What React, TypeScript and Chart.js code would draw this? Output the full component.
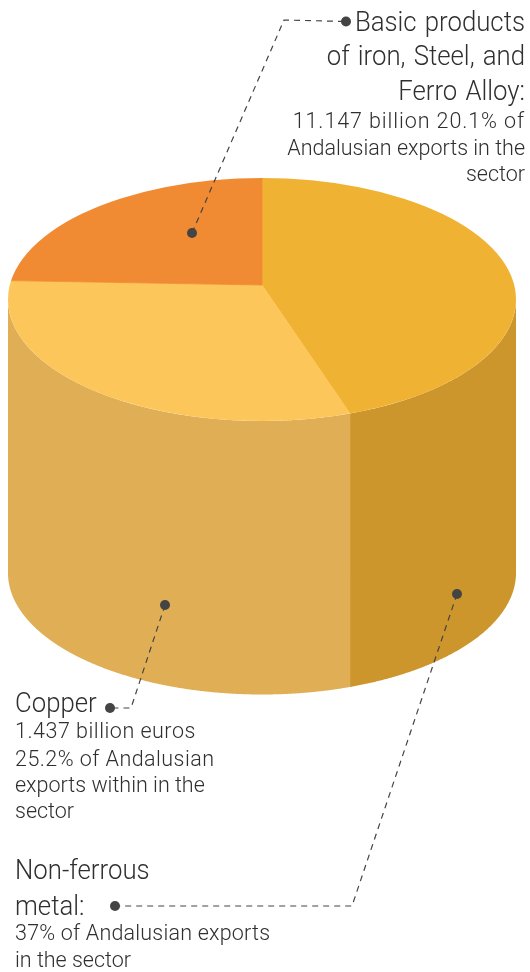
import React, { useEffect, useRef } from "react";
import { Chart, registerables } from "chart.js";

Chart.register(...registerables);

// ---- data ----
const categories = ["Non-ferrous metal", "Copper", "Basic products of iron, Steel, and Ferro Alloy"];
const shares = [37, 25.2, 20.1];
const topColors = ["#EFB233", "#FDC65A", "#F18B33"];
const wallColors = ["#CD962C", "#E0AE55", "#F18B33"];

const basicTitle = ["Basic products", "of iron, Steel, and", "Ferro Alloy:"];
const basicBody = ["11.147 billion 20.1% of", "Andalusian exports in the", "sector"];
const copperTitle = ["Copper"];
const copperBody = ["1.437 billion euros", "25.2% of Andalusian", "exports within in the", "sector"];
const metalTitle = ["Non-ferrous", "metal:"];
const metalBody = ["37% of Andalusian exports", "in the sector"];

// ---- cylinder geometry (styling, not data) ----
const CX = 262, CY = 299.5, RX = 254, RY = 121.5, WALL = 273.5, APEX_Y = 285;
const SQUASH = RY / RX;
const INK = "#444444";
const TITLE_FONT = '300 28px Roboto';
const BODY_FONT = '300 21.5px Roboto';
const TITLE_STRETCH = 0.92;

function rimPoint(angle: number) {
  const dx = Math.cos(angle), dy = Math.sin(angle);
  const d = (CY - APEX_Y) / SQUASH;
  const b = -dy * d;
  const c = d * d - RX * RX;
  const t = -b + Math.sqrt(b * b - c);
  return { x: CX + t * dx, y: APEX_Y + t * dy * SQUASH };
}

function leader(ctx: CanvasRenderingContext2D, pts: number[][]) {
  ctx.save();
  ctx.strokeStyle = INK;
  ctx.lineWidth = 1.2;
  ctx.setLineDash([6, 5]);
  ctx.beginPath();
  pts.forEach((p, i) => (i ? ctx.lineTo(p[0], p[1]) : ctx.moveTo(p[0], p[1])));
  ctx.stroke();
  ctx.setLineDash([]);
  ctx.fillStyle = INK;
  [pts[0], pts[pts.length - 1]].forEach((p) => {
    ctx.beginPath();
    ctx.arc(p[0], p[1], 5, 0, Math.PI * 2);
    ctx.fill();
  });
  ctx.restore();
}

function writeTitle(ctx: CanvasRenderingContext2D, lines: string[], x: number, ys: number[], align: CanvasTextAlign) {
  ctx.save();
  ctx.font = TITLE_FONT;
  ctx.fillStyle = "#2f2f2f";
  ctx.textAlign = align;
  ctx.textBaseline = "alphabetic";
  (ctx as any).wordSpacing = "2px";
  ctx.translate(x, 0);
  ctx.scale(TITLE_STRETCH, 1);
  lines.forEach((l, i) => ctx.fillText(l, 0, ys[i]));
  ctx.restore();
}

function writeBody(ctx: CanvasRenderingContext2D, lines: string[], x: number, ys: number[], spacing: number[], align: CanvasTextAlign) {
  ctx.save();
  ctx.font = BODY_FONT;
  ctx.fillStyle = "#2f2f2f";
  ctx.textAlign = align;
  ctx.textBaseline = "alphabetic";
  lines.forEach((l, i) => {
    (ctx as any).letterSpacing = spacing[i] + "px";
    ctx.fillText(l, x, ys[i]);
  });
  ctx.restore();
}

const cylinderPlugin = {
  id: "cylinder",
  beforeDatasetsDraw(chart: any) {
    const ctx: CanvasRenderingContext2D = chart.ctx;
    const arcs = chart.getDatasetMeta(0).data;

    // side wall: each slice's front rim extruded downward
    arcs.forEach((arc: any, i: number) => {
      const top: { x: number; y: number }[] = [];
      const steps = 600;
      for (let k = 0; k <= steps; k++) {
        const a = arc.startAngle + ((arc.endAngle - arc.startAngle) * k) / steps;
        const p = rimPoint(a);
        if (p.y >= CY) top.push(p);
      }
      if (!top.length) return;
      ctx.save();
      ctx.fillStyle = wallColors[i];
      ctx.beginPath();
      top.forEach((p, k) => (k ? ctx.lineTo(p.x, p.y) : ctx.moveTo(p.x, p.y)));
      for (let k = top.length - 1; k >= 0; k--) ctx.lineTo(top[k].x, top[k].y + WALL);
      ctx.closePath();
      ctx.fill();
      ctx.restore();
    });

    // top face: the library's arcs, squashed, with their apex off-centre, cut by the rim
    ctx.save();
    ctx.beginPath();
    ctx.ellipse(CX, CY, RX, RY, 0, 0, Math.PI * 2);
    ctx.clip();
    arcs.forEach((arc: any) => {
      ctx.save();
      ctx.translate(CX, APEX_Y);
      ctx.scale(1, SQUASH);
      ctx.translate(-arc.x, -arc.y);
      arc.draw(ctx);
      ctx.restore();
    });
    ctx.restore();
    return false;
  },
  afterDraw(chart: any) {
    const ctx: CanvasRenderingContext2D = chart.ctx;
    leader(ctx, [[192, 233], [284, 20], [346, 21.5]]);
    leader(ctx, [[165, 605], [131, 708], [110, 708]]);
    leader(ctx, [[457, 594], [352, 906], [115, 906]]);

    writeTitle(ctx, basicTitle, 525, [31, 65, 100], "right");
    writeBody(ctx, basicBody, 525, [128, 155, 181], [0.9, 0, 0], "right");
    writeTitle(ctx, copperTitle, 15, [712], "left");
    writeBody(ctx, copperBody, 15, [738, 766, 792, 818], [0.5, 0.45, 0, 0], "left");
    writeTitle(ctx, metalTitle, 15, [879, 915], "left");
    writeBody(ctx, metalBody, 15, [940, 967], [0.2, 0], "left");
  },
};

export default function App() {
  const ref = useRef<HTMLCanvasElement>(null);
  useEffect(() => {
    const chart = new Chart(ref.current as HTMLCanvasElement, {
      type: "pie",
      data: {
        labels: categories,
        datasets: [
          {
            data: shares,
            backgroundColor: topColors,
            borderColor: topColors,
            borderWidth: 1,
            radius: 320,
          } as any,
        ],
      },
      options: {
        responsive: false,
        animation: false,
        rotation: 0,
        plugins: { legend: { display: false }, tooltip: { enabled: false } },
      },
      plugins: [cylinderPlugin],
    } as any);
    return () => chart.destroy();
  }, []);
  return (
    <canvas
      ref={ref}
      width={530}
      height={972}
      style={{ position: "absolute", left: 0, top: 0, width: 530, height: 972, display: "block" }}
    />
  );
}
